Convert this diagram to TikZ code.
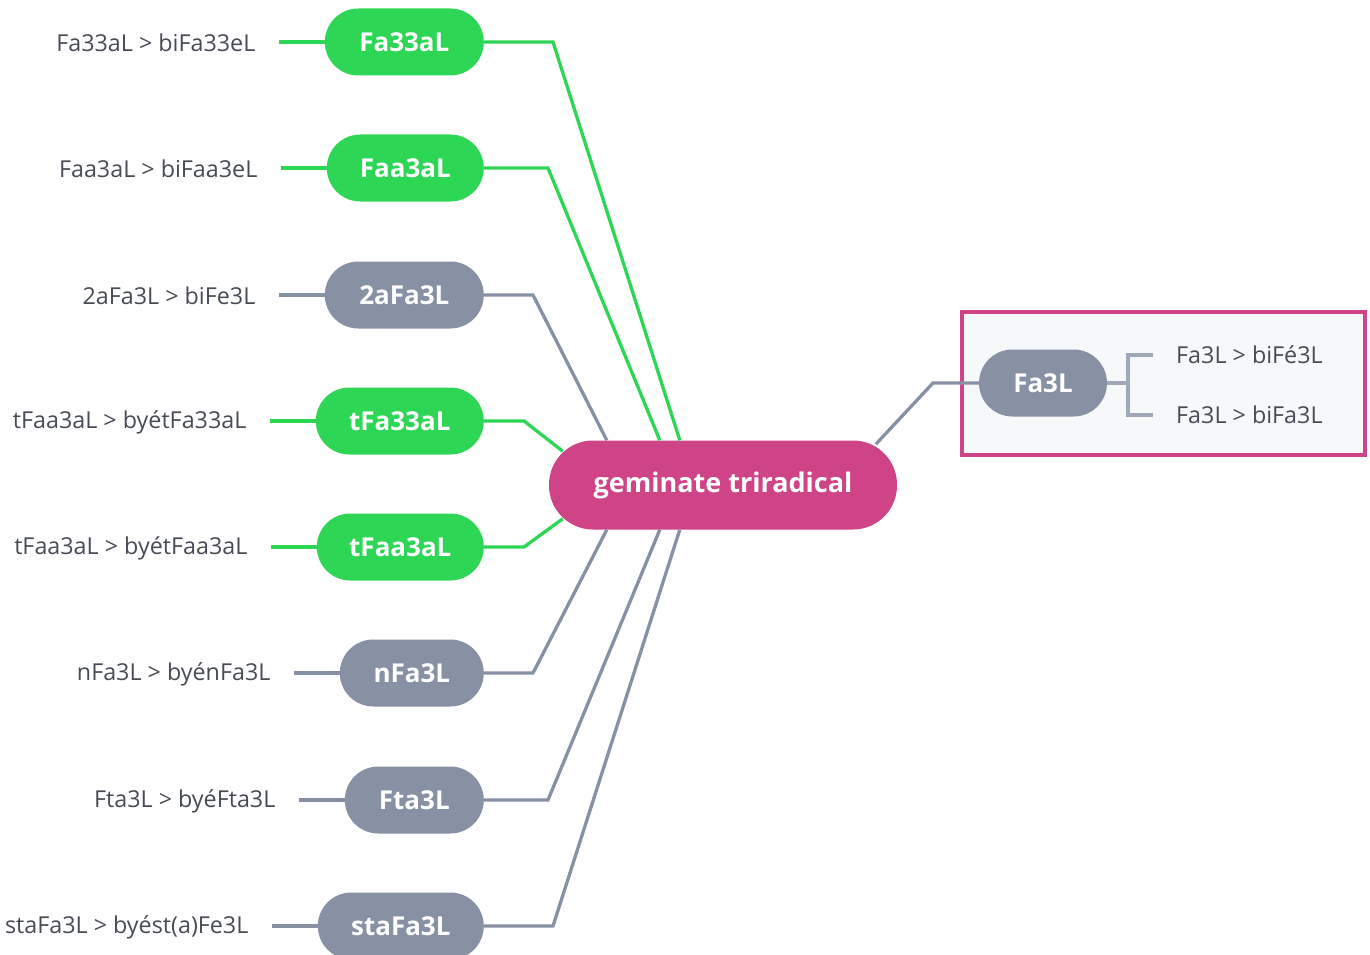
\documentclass[tikz,border=0pt]{standalone}
\usepackage{fontspec}
\setmainfont{Open Sans}
\usetikzlibrary{calc}
\definecolor{grn}{RGB}{46,214,85}
\definecolor{gry}{RGB}{135,145,163}
\definecolor{pnk}{RGB}{207,68,135}
\definecolor{txt}{RGB}{70,75,84}
\definecolor{brk}{RGB}{160,168,181}
\definecolor{boxbg}{RGB}{247,248,250}
\tikzset{
  pill/.style={rounded corners=33.5pt, minimum height=67pt, inner sep=0pt, text=white, font=\fontsize{26}{30}\selectfont\bfseries, anchor=east},
  gpill/.style={pill, fill=grn},
  spill/.style={pill, fill=gry},
  lbl/.style={inner sep=0pt, text=txt, font=\fontsize{23.3}{28}\selectfont, anchor=east},
  rlbl/.style={inner sep=0pt, text=txt, font=\fontsize{23.3}{28}\selectfont, anchor=west},
  gline/.style={draw=grn, line width=3.3pt},
  sline/.style={draw=gry, line width=3.3pt},
}
\begin{document}
\begin{tikzpicture}[x=1pt,y=-1pt]
\useasboundingbox (0,0) rectangle (1370,955);
% right box
\node[draw=pnk, fill=boxbg, line width=3.2pt, minimum width=403pt, minimum height=143pt, inner sep=0pt] (box) at (1163.5,383.5) {};
% central
\node[fill=pnk, rounded corners=44pt, minimum width=348pt, minimum height=89pt, inner sep=0pt, text=white, font=\fontsize{27}{32}\selectfont\bfseries] (c) at (723,485) {geminate triradical};
% left nodes
\node[gpill, minimum width=159pt] (n1) at (484,42) {Fa33aL};
\node[gpill, minimum width=157pt] (n2) at (484,168) {Faa3aL};
\node[spill, minimum width=159pt] (n3) at (484,295) {2aFa3L};
\node[gpill, minimum width=168pt] (n4) at (484,421) {tFa33aL};
\node[gpill, minimum width=167pt] (n5) at (484,547) {tFaa3aL};
\node[spill, minimum width=144pt] (n6) at (484,673) {nFa3L};
\node[spill, minimum width=139pt] (n7) at (484,800) {Fta3L};
\node[spill, minimum width=166pt] (n8) at (484,926) {staFa3L};
% labels
\node[lbl] (t1) at ($(n1.west)+(-69,1)$) {Fa33aL > biFa33eL};
\node[lbl] (t2) at ($(n2.west)+(-69,1)$) {Faa3aL > biFaa3eL};
\node[lbl] (t3) at ($(n3.west)+(-69,1)$) {2aFa3L > biFe3L};
\node[lbl] (t4) at ($(n4.west)+(-69,1)$) {tFaa3aL > byétFa33aL};
\node[lbl] (t5) at ($(n5.west)+(-69,1)$) {tFaa3aL > byétFaa3aL};
\node[lbl] (t6) at ($(n6.west)+(-69,1)$) {nFa3L > byénFa3L};
\node[lbl] (t7) at ($(n7.west)+(-69,1)$) {Fta3L > byéFta3L};
\node[lbl] (t8) at ($(n8.west)+(-69,1)$) {staFa3L > byést(a)Fe3L};
\draw[gline, shorten <=23pt] (t1.east |- n1.west) -- (n1.west);
\draw[gline, shorten <=23pt] (t2.east |- n2.west) -- (n2.west);
\draw[sline, shorten <=23pt] (t3.east |- n3.west) -- (n3.west);
\draw[gline, shorten <=23pt] (t4.east |- n4.west) -- (n4.west);
\draw[gline, shorten <=23pt] (t5.east |- n5.west) -- (n5.west);
\draw[sline, shorten <=23pt] (t6.east |- n6.west) -- (n6.west);
\draw[sline, shorten <=23pt] (t7.east |- n7.west) -- (n7.west);
\draw[sline, shorten <=23pt] (t8.east |- n8.west) -- (n8.west);
% connectors to center
\draw[gline] (n1.east) -- ++(69,0) -- ($(c.north west)+(131,0)$);
\draw[gline] (n2.east) -- ++(64,0) -- ($(c.north west)+(111,0)$);
\draw[sline] (n3.east) -- ++(49,0) -- ($(c.north west)+(58,0)$);
\draw[gline] (n4.east) -- ++(40,0) -- ($(c.north west)+(14,11)$);
\draw[gline] (n5.east) -- ++(40,0) -- ($(c.south west)+(14,-11)$);
\draw[sline] (n6.east) -- ++(49,0) -- ($(c.south west)+(58,0)$);
\draw[sline] (n7.east) -- ++(64,0) -- ($(c.south west)+(111,0)$);
\draw[sline] (n8.east) -- ++(69,0) -- ($(c.south west)+(131,0)$);
% right
\node[spill, anchor=center, minimum width=128pt] (f) at (1043,383) {Fa3L};
\draw[sline] ($(c.center)+(153,-41)$) -- (933,383) -- (f.west);
\node[rlbl] (r1) at (1176,355) {Fa3L > biFé3L};
\node[rlbl] (r2) at (1176,415) {Fa3L > biFa3L};
\coordinate (bm) at (1128,383);
\draw[draw=brk, line width=3.3pt] (f.east) -- (bm);
\draw[draw=brk, line width=3.3pt] ([xshift=-23pt]r1.west) -| (bm) |- ([xshift=-23pt]r2.west);
\end{tikzpicture}
\end{document}
